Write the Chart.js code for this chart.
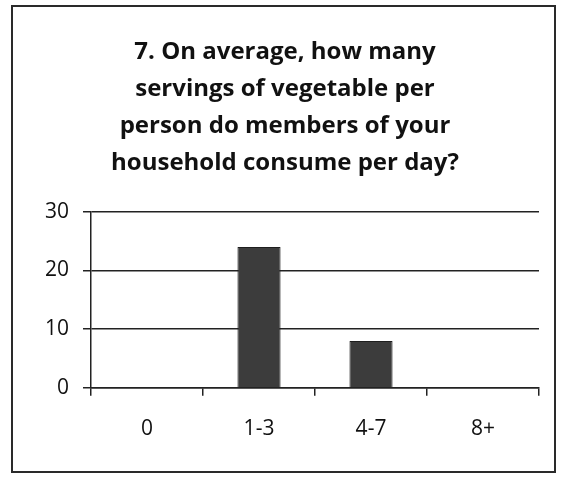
<!DOCTYPE html>
<html>
<head>
<meta charset="utf-8">
<script src="https://cdn.jsdelivr.net/npm/chart.js@4/dist/chart.umd.min.js"></script>
<style>
  body { margin: 0; background: #fff; }
  #frame {
    position: absolute; left: 11px; top: 5px;
    width: 545px; height: 468px;
    box-sizing: border-box;
    border: 2px solid #2a2a2a;
  }
  #chart { display: block; }
</style>
</head>
<body>
<div id="frame"><canvas id="chart" width="541" height="464"></canvas></div>
<script>
// 数据
const categories = ['0', '1-3', '4-7', '8+'];
const servings = [0, 24, 8, 0];
const yTicks = [0, 10, 20, 30];
const titleLines = [
    '7. On average, how many',
    'servings of vegetable per',
    'person do members of your',
    'household consume per day?'
];

const ink = '#222';
const ctx = document.getElementById('chart').getContext('2d');
new Chart(ctx, {
    type: 'bar',
    data: {
        labels: categories,
        datasets: [{
            data: servings,
            backgroundColor: '#3c3c3c',
            borderColor: '#1e1e1e',
            borderWidth: 1,
            categoryPercentage: 1,
            barPercentage: 0.385
        }]
    },
    options: {
        responsive: false,
        animation: false,
        layout: { padding: { left: 18, right: 15, top: 0, bottom: 8 } },
        plugins: {
            legend: { display: false },
            tooltip: { enabled: false },
            title: {
                display: true,
                text: titleLines,
                color: '#111',
                font: { family: 'Open Sans', size: 24, weight: 'bold', lineHeight: 1.54 },
                padding: { top: 27, bottom: 30 }
            }
        },
        scales: {
            x: {
                grid: {
                    offset: true,
                    drawOnChartArea: false,
                    drawTicks: true,
                    tickLength: 8,
                    color: ink,
                    lineWidth: 1.5
                },
                border: { color: ink, width: 1.5 },
                ticks: {
                    color: '#111',
                    padding: 21,
                    font: { family: 'Open Sans', size: 21 }
                }
            },
            y: {
                min: 0,
                max: 30,
                afterBuildTicks: axis => { axis.ticks = yTicks.map(v => ({ value: v })); },
                grid: {
                    color: ink,
                    lineWidth: 1.5,
                    tickLength: 8
                },
                border: { color: ink, width: 1.5 },
                ticks: {
                    color: '#111',
                    padding: 14,
                    font: { family: 'Open Sans', size: 21 }
                }
            }
        }
    }
});
</script>
</body>
</html>
